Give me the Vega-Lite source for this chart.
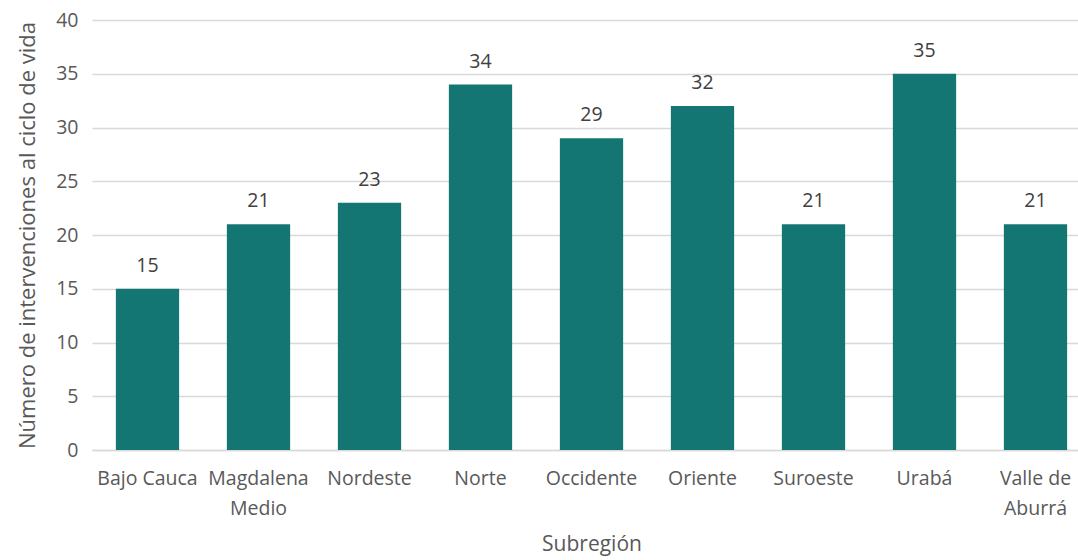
{
  "$schema": "https://vega.github.io/schema/vega-lite/v6.json",
  "autosize": {"type": "none"},
  "padding": {"left": 92, "top": 20, "right": 0, "bottom": 110},
  "width": 999,
  "height": 430,
  "background": "white",
  "config": {
    "view": {"stroke": null},
    "font": "Open Sans",
    "axis": {"labelFont": "Open Sans", "titleFont": "Open Sans", "labelColor": "#595959", "titleColor": "#595959", "labelFontSize": 19.5, "titleFontSize": 21, "titleFontWeight": "normal"}
  },
  "data": {"values": [
    {"subregion": "Bajo Cauca", "n": 15},
    {"subregion": "Magdalena Medio", "n": 21},
    {"subregion": "Nordeste", "n": 23},
    {"subregion": "Norte", "n": 34},
    {"subregion": "Occidente", "n": 29},
    {"subregion": "Oriente", "n": 32},
    {"subregion": "Suroeste", "n": 21},
    {"subregion": "Urabá", "n": 35},
    {"subregion": "Valle de Aburrá", "n": 21}
  ]},
  "encoding": {
    "x": {"field": "subregion", "type": "nominal", "sort": null,
      "scale": {"paddingInner": 0.43, "paddingOuter": 0.215},
      "axis": {"title": "Subregión", "labelAngle": 0, "ticks": false, "domainColor": "#d9d9d9", "domainWidth": 1.5, "labelPadding": 19, "titlePadding": 16, "labelLineHeight": 30, "labelOverlap": false,
        "labelExpr": "datum.value == 'Magdalena Medio' ? ['Magdalena', 'Medio'] : datum.value == 'Valle de Aburrá' ? ['Valle de', 'Aburrá'] : datum.value"}},
    "y": {"field": "n", "type": "quantitative",
      "scale": {"domain": [0, 40]},
      "axis": {"title": "Número de intervenciones  al ciclo de vida", "titleFontSize": 22, "values": [0,5,10,15,20,25,30,35,40], "labelOverlap": false, "domain": false, "ticks": false, "gridColor": "#d9d9d9", "gridWidth": 1.5, "labelPadding": 14, "titlePadding": 16}}
  },
  "layer": [
    {"mark": {"type": "bar", "color": "#147672"}},
    {"mark": {"type": "text", "dy": -13, "baseline": "bottom", "fontSize": 19.5, "color": "#404040", "font": "Open Sans"},
     "encoding": {"text": {"field": "n", "type": "quantitative"}}}
  ]
}
